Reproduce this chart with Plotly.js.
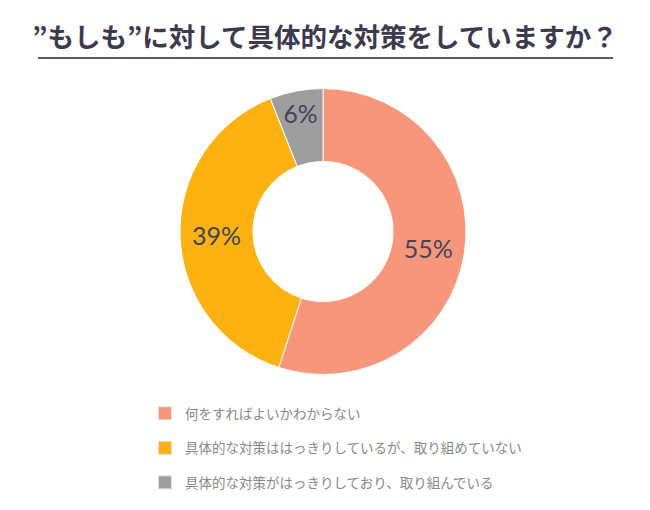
<!DOCTYPE html>
<html><head><meta charset="utf-8">
<script src="https://cdn.plot.ly/plotly-3.0.1.min.js"></script>
<style>html,body{margin:0;padding:0;background:#fff}</style>
</head><body><div id="chart" style="width:650px;height:510px"></div>
<script>
const categories = ["何をすればよいかわからない", "具体的な対策ははっきりしているが、取り組めていない", "具体的な対策がはっきりしており、取り組んでいる"];
const values = [55, 39, 6];
const colors = ["#F7967A", "#FDB212", "#9E9E9E"];
const titleText = "”もしも”に対して具体的な対策をしていますか？";

const traces = [{
  type: "pie",
  labels: categories,
  values: values,
  sort: false,
  direction: "clockwise",
  rotation: 0,
  hole: 0.49,
  marker: {colors: colors, line: {color: "#ffffff", width: 1}},
  textinfo: "percent",
  texttemplate: "%{value}%",
  textposition: "inside",
  insidetextorientation: "horizontal",
  textfont: {family: "Lato, 'Noto Sans', sans-serif", size: 25, color: "#45435a"},
  domain: {x: [180/650, 466/650], y: [1 - 375/510, 1 - 88/510]},
  showlegend: false,
  hoverinfo: "label+percent"
}];
categories.forEach((c, i) => {
  traces.push({
    type: "scatter", mode: "markers", x: [null], y: [null],
    name: c, legendgroup: "g" + i,
    marker: {symbol: "square", size: 13, color: colors[i], line: {color: "#e0e0e0", width: 1}},
    showlegend: true, hoverinfo: "skip"
  });
});

const layout = {
  width: 650, height: 510,
  margin: {l: 0, r: 0, t: 0, b: 0},
  paper_bgcolor: "#ffffff", plot_bgcolor: "#ffffff",
  title: {text: "<b>" + titleText + "</b>", x: 0.5, xanchor: "center", y: 1 - 38/510, yanchor: "middle",
          font: {family: "'Noto Sans CJK JP', sans-serif", size: 26.5, color: "#3d3a4f"}},
  xaxis: {visible: false}, yaxis: {visible: false},
  showlegend: true,
  legend: {x: 145/650, xanchor: "left", y: 1 - 398/510, yanchor: "top",
           font: {family: "'Noto Sans CJK JP', sans-serif", size: 13.5, color: "#888888"},
           tracegroupgap: 14, bgcolor: "rgba(0,0,0,0)"},
  shapes: [{type: "line", xref: "paper", yref: "paper", x0: 38/650, x1: 613/650, y0: 1 - 58/510, y1: 1 - 58/510,
            line: {color: "#5a5670", width: 2}}]
};
Plotly.newPlot("chart", traces, layout, {displayModeBar: false, staticPlot: true});
</script></body></html>
